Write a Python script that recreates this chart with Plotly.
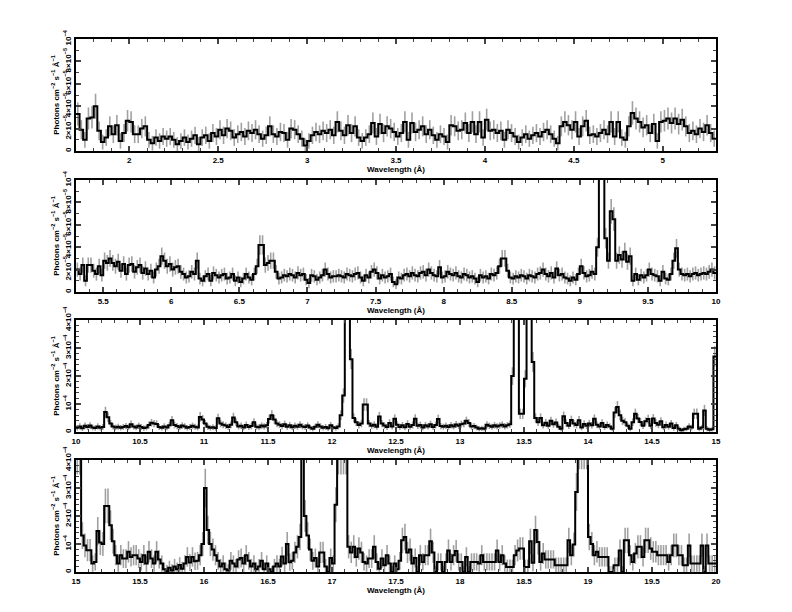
import plotly.graph_objects as go

# Binned X-ray spectrum, four wavelength panels, 0.02 A bins
# flux values are in units of 1e-5 photons cm^-2 s^-1 A^-1
bin_width = 0.02

p1_start = 1.70
p1_flux = [
    3.3, 1.9, 1.0, 2.9, 3.0, 4.0, 1.8,
    0.8, 1.2, 2.2, 1.5, 2.3, 0.9, 1.6, 2.7,
    2.6, 1.5, 1.5, 2.0, 2.2, 1.0, 0.7, 1.2, 0.9, 1.3,
    1.1, 1.3, 1.0, 0.6, 0.9, 1.2, 0.8, 1.1, 1.4, 0.6,
    1.2, 1.4, 0.9, 1.6, 1.3, 1.9, 1.4, 2.0, 1.8, 1.2,
    1.5, 1.7, 1.3, 1.8, 1.6, 1.9, 1.5, 1.1, 1.4, 2.2,
    1.5, 1.3, 1.7, 1.6, 1.0, 2.0, 1.9, 1.5, 1.1, 0.5,
    0.9, 1.4, 1.7, 1.5, 1.8, 1.6, 1.9, 1.4, 2.6, 1.8,
    1.4, 2.3, 1.6, 2.2, 1.2, 0.9, 1.2, 1.5, 2.5, 1.3,
    2.4, 1.6, 2.2, 2.0, 1.7, 1.3, 1.6, 2.6, 1.0, 2.5,
    1.7, 1.9, 2.2, 1.5, 1.9, 1.4, 1.0, 1.5, 1.3, 0.8,
    2.3, 2.2, 1.8, 1.9, 2.5, 1.6, 2.6, 1.5, 2.6, 1.2,
    2.8, 1.8, 1.9, 1.6, 1.8, 1.0, 1.9, 1.6, 1.3, 0.8,
    1.2, 1.5, 1.1, 1.4, 1.6, 1.3, 1.7, 1.9, 1.5, 1.1,
    0.7, 2.2, 2.6, 2.3, 1.9, 2.6, 1.3, 2.2, 2.7, 1.4,
    1.5, 1.3, 1.6, 1.9, 1.5, 2.6, 1.3, 2.6, 1.2, 1.0,
    2.2, 3.4, 2.9, 2.6, 2.1, 2.3, 1.6, 2.4, 0.9, 2.6,
    2.7, 2.9, 2.5, 2.9, 2.4, 2.8, 2.2, 1.6, 1.8, 1.5,
    2.0, 1.7, 2.3, 1.6, 1.1,
]

p2_start = 5.30
p2_flux = [
    2.0, 1.6, 2.4, 1.0, 2.4, 2.4, 1.9, 1.6, 2.3, 1.5,
    2.8, 2.6, 3.0, 2.6, 2.3, 2.7, 1.9, 2.5, 1.6, 2.4,
    2.5, 1.8, 2.2, 2.4, 1.7, 2.1, 1.6, 1.9, 1.3, 2.0,
    2.3, 3.2, 2.8, 2.3, 2.5, 2.0, 2.2, 2.3, 1.8, 1.6,
    1.3, 1.4, 1.8, 1.6, 2.8, 1.2, 1.0, 1.4, 1.6, 1.0,
    1.7, 1.5, 1.3, 1.5, 1.6, 1.2, 1.3, 1.6, 1.0, 1.3,
    0.9, 1.2, 1.6, 1.3, 1.1, 1.6, 2.3, 4.2, 4.2, 2.4,
    2.6, 2.8, 2.8, 1.8, 1.2, 1.3, 1.5, 1.4, 1.6, 1.5,
    1.3, 1.7, 1.5, 1.6, 1.1, 0.8, 1.5, 1.4, 1.1, 1.3,
    1.5, 2.0, 1.6, 1.3, 1.4, 1.4, 1.5, 1.4, 1.3, 1.6,
    1.5, 1.4, 1.6, 1.7, 1.3, 1.0, 1.5, 1.3, 1.8, 2.0,
    1.7, 1.2, 1.5, 1.3, 1.4, 1.6, 0.9, 0.7, 1.3, 1.2,
    1.5, 1.6, 1.4, 1.7, 1.5, 1.4, 1.7, 1.8, 1.5, 2.0,
    1.7, 1.5, 1.4, 2.2, 1.3, 1.4, 1.8, 1.6, 1.5, 1.7,
    1.4, 1.3, 1.6, 1.5, 1.3, 1.4, 1.2, 0.9, 1.5, 1.3,
    1.4, 1.2, 1.6, 1.5, 1.7, 2.3, 3.0, 3.0, 1.9, 1.3,
    1.2, 1.4, 1.3, 1.5, 1.4, 1.2, 1.5, 1.4, 1.3, 1.6,
    1.7, 2.0, 1.6, 1.4, 1.7, 1.3, 2.1, 1.5, 1.6, 1.3,
    1.2, 1.0, 1.3, 1.1, 1.6, 2.3, 1.7, 1.4, 1.5, 1.8,
    1.6, 4.0, 14.0, 13.0, 4.8, 2.8, 7.2, 6.5, 2.8, 3.3,
    2.9, 3.6, 2.7, 3.2, 1.0, 1.6, 1.1, 1.5, 1.3, 1.5,
    2.0, 1.6, 1.5, 1.4, 1.0, 1.8, 1.2, 1.1, 1.6, 2.8,
    3.9, 2.0, 1.6, 1.5, 1.6, 1.4, 1.6, 1.7, 1.5, 1.6,
    1.7, 1.6, 1.8, 2.0, 1.7,
]

p3_start = 10.00
p3_flux = [
    1.5, 2.0, 1.3, 2.2, 1.8, 2.3, 1.6, 1.4, 2.0, 1.5,
    1.8, 7.1, 5.3, 3.0, 2.0, 1.6, 1.9, 1.5, 1.8, 2.1,
    1.7, 2.8, 2.0, 1.6, 2.2, 1.8, 1.4, 1.6, 2.5, 3.3,
    3.0, 2.9, 1.8, 1.5, 2.0, 1.6, 2.4, 4.2, 2.5, 2.1,
    1.7, 2.3, 2.0, 1.5, 1.8, 2.2, 1.9, 1.6, 5.4, 4.5,
    3.0, 1.9, 1.5, 1.7, 1.4, 4.9, 3.0, 2.6, 2.3, 1.8,
    2.6, 5.2, 3.5, 2.0, 2.2, 1.6, 2.5, 1.8, 2.1, 3.5,
    1.9, 1.7, 2.3, 2.0, 2.4, 4.6, 6.0, 4.5, 3.0, 2.6,
    2.1, 2.8, 1.9, 2.4, 1.7, 2.2, 1.9, 2.6, 2.0, 1.8,
    2.3, 1.6, 1.2, 1.9, 2.6, 2.0, 1.5, 1.8, 1.3, 2.4,
    1.7, 1.4, 2.0, 6.0, 13.0, 60.0, 60.0, 26.0, 5.0, 3.5,
    2.5, 3.0, 9.8, 9.8, 3.0, 2.2, 2.6, 1.9, 5.5, 3.0,
    2.3, 1.8, 3.2, 2.0, 4.7, 2.6, 1.8, 2.4, 1.7, 2.9,
    1.9, 2.5, 4.7, 2.2, 2.5, 1.6, 2.4, 2.0, 2.8, 1.8,
    2.5, 4.6, 2.1, 1.9, 2.2, 1.8, 2.4, 2.0, 2.7, 2.2,
    2.8, 3.0, 4.0, 3.2, 2.0, 2.1, 1.6, 1.2, 1.3, 1.2,
    2.6, 2.2, 1.9, 2.4, 2.0, 2.3, 2.6, 2.0, 2.4, 2.8,
    20.0, 55.0, 55.0, 6.5, 6.5, 19.0, 55.0, 55.0, 25.0, 5.0,
    3.5, 5.0, 2.4, 3.3, 2.2, 4.0, 2.8, 3.4, 1.9, 1.2,
    5.6, 3.2, 2.2, 4.3, 3.0, 2.5, 4.2, 1.6, 2.9, 2.2,
    3.0, 2.4, 4.7, 2.6, 2.0, 3.2, 1.8, 2.5, 2.0, 1.2,
    7.0, 8.9, 6.0, 4.0, 3.5, 2.2, 1.2, 3.5, 6.5, 4.8,
    3.6, 2.2, 3.8, 4.6, 2.2, 4.8, 3.2, 2.6, 3.8, 1.7,
    2.5, 1.9, 3.0, 1.4, 2.4, 1.2, 0.6, 1.0, 1.2, 2.0,
    1.6, 6.5, 6.5, 1.2, 1.6, 7.7, 1.2, 0.8, 1.0, 27.0,
]

p4_start = 15.00
p4_flux = [
    43.0, 43.0, 13.0, 9.5, 7.8, 7.8, 3.0, 3.6, 14.6, 10.5,
    10.0, 23.6, 23.6, 16.7, 11.0, 6.0, 3.0, 6.0, 4.8, 4.8,
    7.2, 5.4, 6.0, 6.0, 4.8, 3.6, 6.0, 3.0, 7.2, 4.8,
    3.0, 7.2, 4.5, 3.0, 1.0, 0.3, 1.5, 0.5, 2.0, 1.0,
    2.5, 1.2, 3.0, 5.4, 3.4, 5.4, 3.8, 4.0, 6.0, 10.0,
    30.0, 15.0, 10.0, 8.0, 6.0, 4.0, 2.0, 3.0, 1.0, 0.5,
    4.0, 3.0, 2.0, 4.5, 5.0, 3.0, 6.0, 4.0, 2.0, 3.0,
    1.0, 2.0, 4.0, 1.0, 3.0, 1.0, 0.0, 2.0, 3.0, 2.0,
    5.5, 3.0, 10.0, 3.5, 4.0, 7.0, 9.0, 12.5, 60.0, 20.0,
    13.0, 8.0, 4.0, 5.0, 2.0, 7.0, 7.0, 2.0, 0.0, 5.0,
    3.0, 24.0, 43.0, 43.0, 43.0, 43.0, 9.0, 7.0, 9.0, 5.4,
    8.4, 7.0, 3.6, 3.0, 4.8, 4.8, 9.0, 3.6, 1.2, 4.8,
    2.4, 6.0, 3.0, 0.0, 3.0, 1.0, 4.0, 11.3, 12.5, 7.0,
    8.0, 3.0, 5.0, 0.0, 6.0, 3.6, 6.0, 6.0, 11.0, 7.0,
    0.0, 3.6, 3.6, 0.0, 3.6, 7.7, 3.6, 6.0, 7.5, 3.6,
    3.6, 0.0, 5.4, 0.0, 3.6, 3.6, 3.6, 3.0, 6.0, 3.6,
    3.6, 3.6, 3.6, 3.6, 7.7, 3.6, 6.0, 3.0, 1.8, 1.8,
    1.8, 6.0, 7.7, 8.4, 8.4, 1.8, 1.8, 11.0, 3.3, 15.0,
    10.7, 3.6, 6.6, 4.5, 4.5, 4.5, 4.5, 2.4, 2.4, 2.4,
    2.4, 2.4, 11.3, 6.0, 9.8, 28.6, 45.0, 45.0, 45.0, 45.0,
    12.5, 10.0, 6.0, 7.2, 5.4, 5.4, 5.4, 5.4, 0.0, 0.0,
    2.4, 2.4, 7.7, 0.0, 11.3, 11.3, 6.0, 3.6, 6.6, 9.0,
    9.0, 5.4, 11.3, 11.3, 8.4, 7.2, 7.2, 6.0, 6.0, 6.0,
    6.0, 3.6, 6.0, 9.5, 9.5, 6.0, 6.0, 2.4, 2.4, 9.5,
    3.0, 3.0, 3.0, 3.0, 9.5, 0.0, 9.5, 3.0, 3.0, 3.0,
]

# x ranges of the four panels
x_ranges = [[1.7, 5.3], [5.3, 10.0], [10.0, 15.0], [15.0, 20.0]]

# y tick labels
small_tickvals = [0, 2e-5, 4e-5, 6e-5, 8e-5, 1e-4]
small_ticktext = ["0", "2×10<sup>−5</sup>", "4×10<sup>−5</sup>",
                  "6×10<sup>−5</sup>", "8×10<sup>−5</sup>", "10<sup>−4</sup>"]
big_tickvals = [0, 1e-4, 2e-4, 3e-4, 4e-4]
big_ticktext = ["0", "10<sup>−4</sup>", "2×10<sup>−4</sup>",
                "3×10<sup>−4</sup>", "4×10<sup>−4</sup>"]

# Poisson-like error scale per panel: err = k * sqrt(flux + c)
err_scale = [(0.5, 1.0), (0.4, 0.5), (0.7, 0.5), (1.2, 3.0)]

panels = [
    (p1_start, p1_flux, [0, 1e-4], small_tickvals, small_ticktext, 1e-5),
    (p2_start, p2_flux, [0, 1e-4], small_tickvals, small_ticktext, 1e-5),
    (p3_start, p3_flux, [0, 4e-4], big_tickvals, big_ticktext, 2e-5),
    (p4_start, p4_flux, [0, 4e-4], big_tickvals, big_ticktext, 2e-5),
]

# panel placement in page pixels; the page body adds an 8px offset,
# so positions are given 8px up/left of where they should land
W, H = 792, 612
off = 8
panel_px = [(39, 151), (180, 292), (320, 432), (460, 572)]
x_dom = [(76 - off) / W, (716 - off) / W]

font = dict(family="Liberation Sans, Arial, sans-serif", size=8, color="black", weight="bold")

fig = go.Figure()
layout = dict(
    width=W, height=H,
    margin=dict(l=0, r=0, t=0, b=0, autoexpand=False),
    paper_bgcolor="white", plot_bgcolor="white",
    showlegend=False,
    font=font,
)

for i, (start, flux, yr, tv, tt, ymin) in enumerate(panels):
    n = len(flux)
    sfx = "" if i == 0 else str(i + 1)
    k, c = err_scale[i]
    edges = [start + j * bin_width for j in range(n + 1)]
    centers = [start + (j + 0.5) * bin_width for j in range(n)]
    y = [v * 1e-5 for v in flux]
    err = [k * (v + c) ** 0.5 * 1e-5 for v in flux]

    # grey error bars
    fig.add_trace(go.Scatter(
        x=centers, y=y, mode="markers",
        marker=dict(size=1, color="rgba(0,0,0,0)"),
        error_y=dict(type="data", array=err, color="#a0a0a0", thickness=1.6, width=0),
        xaxis="x" + sfx, yaxis="y" + sfx, hoverinfo="skip",
    ))
    # black histogram steps
    fig.add_trace(go.Scatter(
        x=edges, y=y + [y[-1]], mode="lines", line_shape="hv",
        line=dict(color="black", width=2),
        xaxis="x" + sfx, yaxis="y" + sfx,
    ))

    top, bottom = panel_px[i]
    layout["xaxis" + sfx] = dict(
        domain=x_dom, anchor="y" + sfx, range=x_ranges[i], automargin=False,
        dtick=0.5, tick0=0, ticks="inside", ticklen=5, tickwidth=1.5,
        minor=dict(ticks="inside", dtick=0.1, ticklen=3, tickwidth=1),
        showline=True, linecolor="black", linewidth=2, mirror="allticks",
        showgrid=False, zeroline=False,
        title=dict(text="Wavelength (Å)", standoff=3, font=font),
        tickfont=font,
    )
    layout["yaxis" + sfx] = dict(
        domain=[1 - (bottom - off) / H, 1 - (top - off) / H], anchor="x" + sfx,
        range=yr, automargin=False,
        tickmode="array", tickvals=tv, ticktext=tt, tickangle=-90,
        ticks="inside", ticklen=5, tickwidth=1.5,
        minor=dict(ticks="inside", dtick=ymin, ticklen=3, tickwidth=1),
        showline=True, linecolor="black", linewidth=2, mirror="allticks",
        showgrid=False, zeroline=False,
        title=dict(text="Photons cm<sup>−2</sup> s<sup>−1</sup> Å<sup>−1</sup>", standoff=2, font=font),
        tickfont=font,
    )

fig.update_layout(**layout)
fig.write_html("out.html")
